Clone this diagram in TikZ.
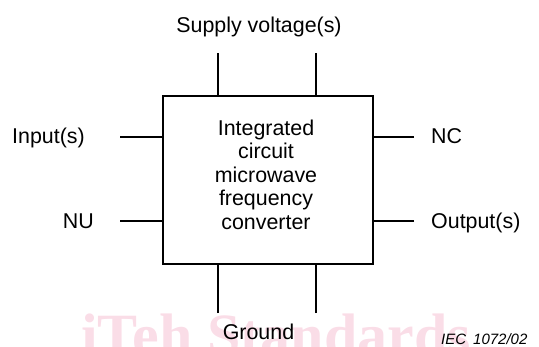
\documentclass[tikz,border=0pt]{standalone}
\usepackage{fontspec}
\setmainfont{Liberation Sans}
\newfontfamily\wmfont{Liberation Serif}
\definecolor{wmpink}{RGB}{250,221,231}
\begin{document}
\begin{tikzpicture}[x=1pt,y=-1pt,
  pin/.style={line width=1.6pt},
  lbl/.style={inner sep=0pt,font=\fontsize{21.4}{23.5}\selectfont},
  chip/.style={draw,line width=1.6pt,minimum width=210pt,minimum height=168pt,inner sep=0pt}]
\useasboundingbox (0,0) rectangle (539,346);
% watermark
\node[anchor=base west,inner sep=0pt,text=wmpink,font=\wmfont\bfseries\fontsize{60}{60}\selectfont] (wm) at (81,355) {iTeh Standards};
% chip
\node[chip] (box) at (268,180) {};
\node[lbl,align=center] (boxtext) at (266,174.5) {Integrated\\circuit\\microwave\\frequency\\converter};
% pin ends
\coordinate (s1) at (218,53);
\coordinate (s2) at (316,53);
\coordinate (g1) at (218,313);
\coordinate (g2) at (316,313);
\coordinate (i1) at (120,137);
\coordinate (i2) at (120,221);
\coordinate (o1) at (414,137);
\coordinate (o2) at (414,221);
\draw[pin] (s1) -- (s1 |- box.north);
\draw[pin] (s2) -- (s2 |- box.north);
\draw[pin] (g1) -- (g1 |- box.south);
\draw[pin] (g2) -- (g2 |- box.south);
\draw[pin] (i1) -- (i1 -| box.west);
\draw[pin] (i2) -- (i2 -| box.west);
\draw[pin] (o1) -- (o1 -| box.east);
\draw[pin] (o2) -- (o2 -| box.east);
% labels
\node[lbl,anchor=base] (supply) at (259,32) {Supply voltage(s)};
\node[lbl,anchor=base] (ground) at (258.5,339) {Ground};
\node[lbl,anchor=base west] (input) at (12,143) {Input(s)};
\node[lbl,anchor=base east] (nu) at (94,228) {NU};
\node[lbl,anchor=base west] (nc) at (431,143) {NC};
\node[lbl,anchor=base west] (output) at (431,228) {Output(s)};
\node[inner sep=0pt,anchor=base west,font=\itshape\fontsize{15}{15}\selectfont] (iec) at (441,344) {IEC\hspace{7pt}1072/02};
\end{tikzpicture}
\end{document}
